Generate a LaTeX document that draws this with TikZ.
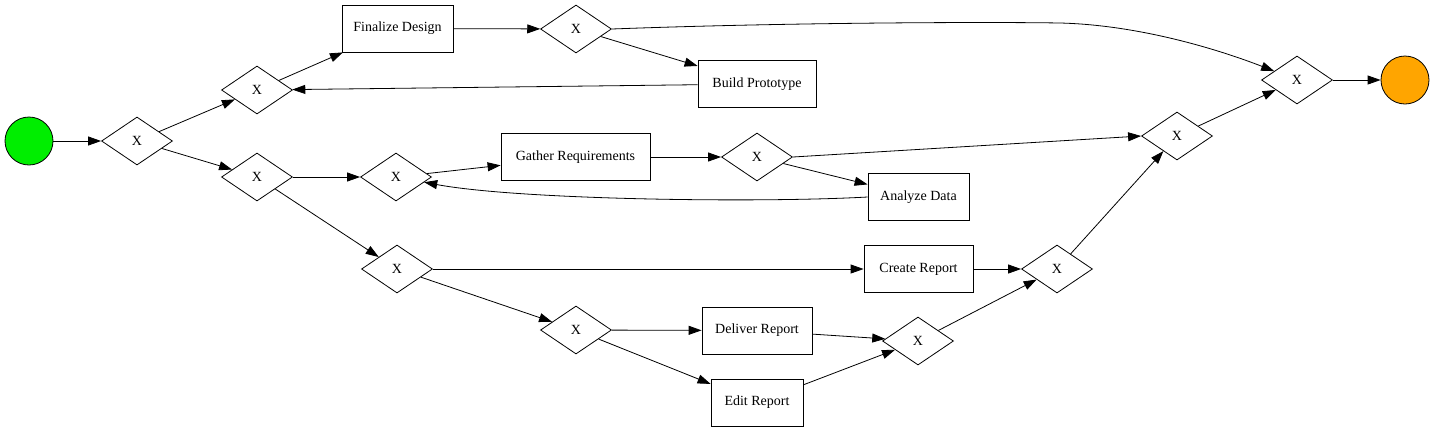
\documentclass[tikz,border=0pt]{standalone}
\usepackage{fontspec}
\setmainfont{Liberation Serif}
\usetikzlibrary{shapes.geometric,arrows.meta}
\begin{document}
\begin{tikzpicture}[x=1pt,y=-1pt,
  font=\fontsize{14}{16}\selectfont,
  gw/.style={draw,diamond,line width=0.8pt,minimum width=71pt,minimum height=48pt,inner sep=0pt},
  task/.style={draw,rectangle,line width=0.8pt,minimum height=47pt,inner sep=0pt},
  ev/.style={draw,circle,line width=0.8pt,minimum size=48pt,inner sep=0pt},
  arr/.style={-{Triangle[length=13pt,width=9pt]},line width=0.8pt}]
\useasboundingbox (0,0) rectangle (1435,432);
\node[ev,fill={rgb,255:red,0;green,238;blue,0}] (start) at (29,141) {};
\node[ev,fill={rgb,255:red,255;green,165;blue,0}] (end) at (1405,80) {};
\node[gw] (g1) at (137,141) {X};
\node[gw] (g2) at (257,90) {X};
\node[gw] (g3) at (257,177) {X};
\node[gw] (g4) at (576,29) {X};
\node[gw] (g5) at (1297,80) {X};
\node[gw] (g6) at (396,177) {X};
\node[gw] (g7) at (757,157) {X};
\node[gw] (g8) at (1177,136) {X};
\node[gw] (g9) at (397,269) {X};
\node[gw] (g10) at (1057,269) {X};
\node[gw] (g11) at (576,330) {X};
\node[gw] (g12) at (918,341) {X};
\node[task,minimum width=111pt] (fd) at (397.5,28.5) {Finalize Design};
\node[task,minimum width=118pt] (bp) at (757,84) {Build Prototype};
\node[task,minimum width=149pt] (gr) at (575.5,157) {Gather Requirements};
\node[task,minimum width=101pt] (ad) at (918.5,197) {Analyze Data};
\node[task,minimum width=109pt] (cr) at (918.5,269) {Create Report};
\node[task,minimum width=110pt] (dr) at (757,330.5) {Deliver Report};
\node[task,minimum width=92pt] (er) at (757,402.5) {Edit Report};
\draw[arr] (start) -- (g1);
\draw[arr] (g1) -- (g2);
\draw[arr] (g1) -- (g3);
\draw[arr] (g2) -- (fd);
\draw[arr] (fd) -- (g4);
\draw[arr] (g4) -- (bp);
\draw[arr] (bp) -- (g2);
\draw[arr] (g4.east) .. controls (800,22) and (1000,22) .. (1060,23) .. controls (1140,25) and (1220,50) .. (g5);
\draw[arr] (g5) -- (end);
\draw[arr] (g3) -- (g6);
\draw[arr] (g3) -- (g9);
\draw[arr] (g6) -- (gr);
\draw[arr] (gr) -- (g7);
\draw[arr] (g7) -- (ad);
\draw[arr] (ad.west) .. controls (760,203) and (520,200) .. (g6);
\draw[arr] (g7.east) -- (g8.west);
\draw[arr] (g8) -- (g5);
\draw[arr] (g9) -- (cr);
\draw[arr] (g9) -- (g11);
\draw[arr] (cr) -- (g10);
\draw[arr] (g10) -- (g8);
\draw[arr] (g11) -- (dr);
\draw[arr] (g11) -- (er);
\draw[arr] (dr) -- (g12);
\draw[arr] (er) -- (g12);
\draw[arr] (g12) -- (g10);
\end{tikzpicture}
\end{document}
